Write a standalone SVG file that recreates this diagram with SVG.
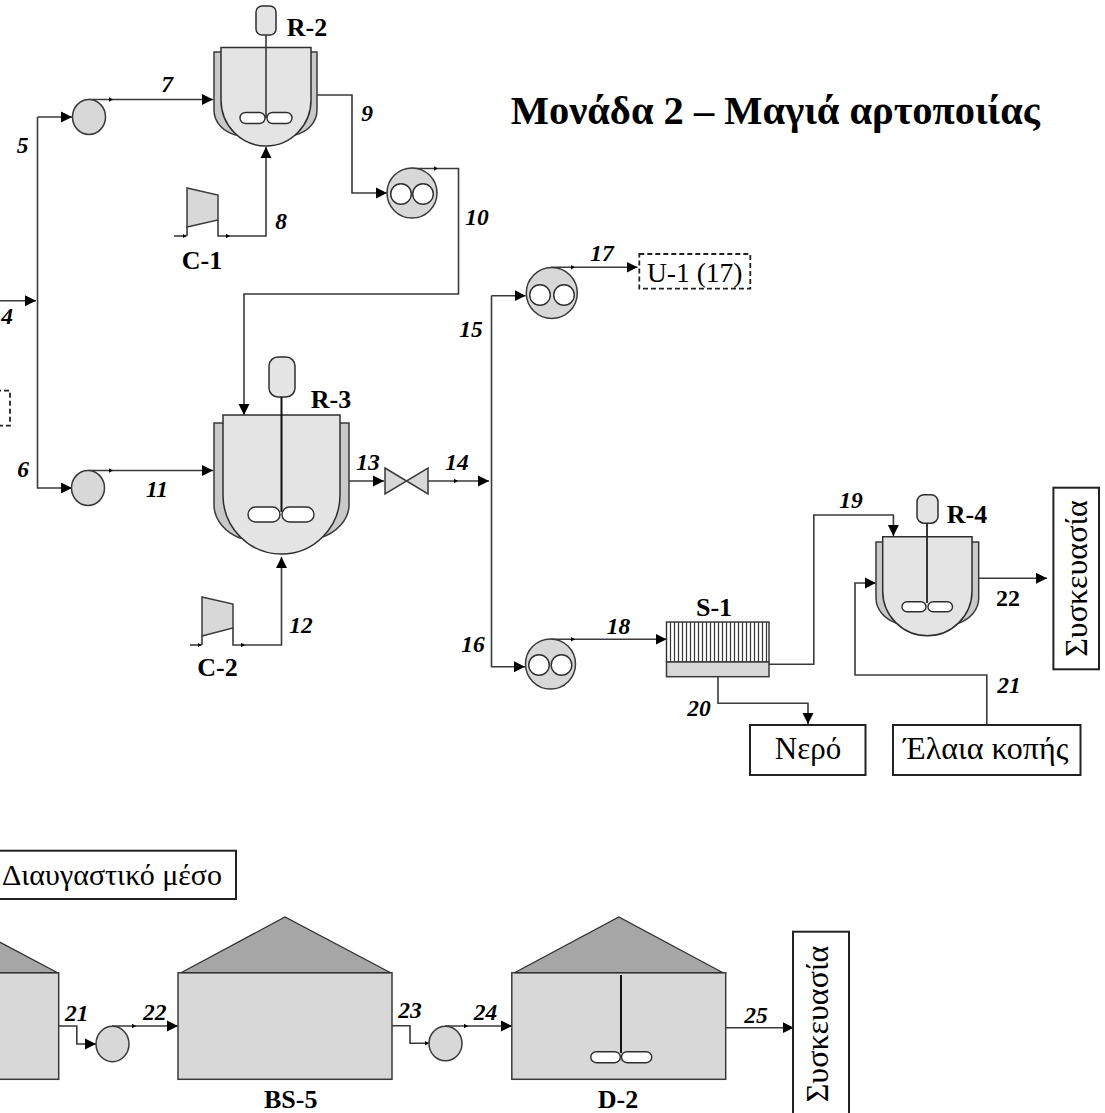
<svg xmlns="http://www.w3.org/2000/svg" width="1105" height="1113" viewBox="0 0 1105 1113">
<style>
text{font-family:"Liberation Serif","Times New Roman",serif;fill:#000}
.n{font-size:23.500px;font-weight:bold;font-style:italic;text-anchor:middle}
.t{font-size:26px;font-weight:bold;text-anchor:middle}
.b{font-size:31px;text-anchor:middle}
.p{font-size:32px;text-anchor:middle}
.c{fill:none;stroke:#3a3a3a;stroke-width:1.6}
.s{fill:#d8d8d8;stroke:#3a3a3a;stroke-width:1.5}
.v{fill:#e4e4e4;stroke:#2e2e2e;stroke-width:1.5}
.j{fill:#c9c9c9;stroke:#3a3a3a;stroke-width:1.5}
.w{fill:#fff;stroke:#2e2e2e;stroke-width:1.4}
.r{fill:#a6a6a6;stroke:#2e2e2e;stroke-width:1.2}
.box{fill:#fff;stroke:#222;stroke-width:2}
.d{fill:#fff;stroke:#222;stroke-width:1.8;stroke-dasharray:5 3}
</style>
<defs>
<marker id="a" markerUnits="userSpaceOnUse" markerWidth="12" markerHeight="12" refX="11" refY="6" orient="auto"><path d="M0,0.5 L11,6 L0,11.5Z" fill="#000"/></marker>
<marker id="f" markerUnits="userSpaceOnUse" markerWidth="5" markerHeight="6" refX="4" refY="3" orient="auto"><path d="M0,0.8 L4,3 L0,5.2Z" fill="#000"/></marker>
<path id="sm" d="M-2,-2.200 L2,0 L-2,2.200Z" fill="#000"/>
</defs>

<g id="connectors">
<path class="c" d="M0,300.700H36" marker-end="url(#a)"/>
<path class="c" d="M37.500,117H72" marker-end="url(#a)"/>
<path class="c" d="M37.500,117V488H72" marker-end="url(#a)"/>
<path class="c" d="M89,99.500H213" marker-end="url(#a)"/>
<path class="c" d="M317,95H352V193H387" marker-end="url(#a)"/>
<path class="c" d="M412,168.500H458.500V294H244V415" marker-end="url(#a)"/>
<path class="c" d="M187,227V236"/>
<path class="c" d="M174,236H186.500" marker-end="url(#f)"/>
<path class="c" d="M218,220V236H266V147" marker-end="url(#a)"/>
<path class="c" d="M88,470.500H213" marker-end="url(#a)"/>
<path class="c" d="M202,636V645"/>
<path class="c" d="M190,645H201.500" marker-end="url(#f)"/>
<path class="c" d="M233,628V645H281.500V557" marker-end="url(#a)"/>
<path class="c" d="M349,481H384" marker-end="url(#a)"/>
<path class="c" d="M428,481H489" marker-end="url(#a)"/>
<path class="c" d="M491.500,295.700H525.700" marker-end="url(#a)"/>
<path class="c" d="M491.500,295.700V666.700H525" marker-end="url(#a)"/>
<path class="c" d="M551,267.300H637.500" marker-end="url(#a)"/>
<path class="c" d="M550,639.300H666.500" marker-end="url(#a)"/>
<path class="c" d="M769,664.300H813.800V515H893.400V536" marker-end="url(#a)"/>
<path class="c" d="M718,676.700V703.300H808V724" marker-end="url(#a)"/>
<path class="c" d="M986.800,725V675H855V583H875.800" marker-end="url(#a)"/>
<path class="c" d="M978.700,578.300H1047" marker-end="url(#a)"/>
<path class="c" d="M58.700,1026H76.800V1044H96" marker-end="url(#a)"/>
<path class="c" d="M112,1026H178" marker-end="url(#a)"/>
<path class="c" d="M392,1025.700H410V1043.300H429" marker-end="url(#f)"/>
<path class="c" d="M445,1026H511.800" marker-end="url(#a)"/>
<path class="c" d="M725.700,1027.700H793.700" marker-end="url(#a)"/>
<use href="#sm" x="111" y="99.500"/>
<use href="#sm" x="436" y="168.500"/>
<use href="#sm" x="228" y="236"/>
<use href="#sm" x="111" y="470.500"/>
<use href="#sm" x="243" y="645"/>
<use href="#sm" x="456" y="481"/>
<use href="#sm" x="573" y="267.300"/>
<use href="#sm" x="573" y="639.300"/>
<use href="#sm" x="134" y="1026"/>
<use href="#sm" x="466" y="1026"/>
</g>

<g id="R-2">
<path class="j" d="M214,52H317V110C317,123 307,132 295,135H236C224,132 214,123 214,110Z"/>
<path class="v" d="M221,47.500H311V100A45,46 0 0 1 221,100Z"/>
<rect class="v" x="256" y="6" width="20" height="29" rx="6"/>
<path class="c" d="M266,35V118"/>
<rect class="w" x="240" y="112.500" width="25" height="11" rx="5.500"/>
<rect class="w" x="267" y="112.500" width="25" height="11" rx="5.500"/>
<text class="t" x="307" y="36">R-2</text>
</g>
<g id="R-3">
<path class="j" d="M214,423H349V505C349,520 336,533 320,538H240C226,533 214,520 214,505Z"/>
<path class="v" d="M223,415H340V495A58.500,59 0 0 1 223,495Z"/>
<rect class="v" x="269" y="357" width="26" height="40" rx="9"/>
<path d="M281.500,397V512" fill="none" stroke="#111" stroke-width="2"/>
<rect class="w" x="248" y="507" width="32" height="15" rx="7.500"/>
<rect class="w" x="282" y="507" width="32" height="15" rx="7.500"/>
<text class="t" x="331" y="408">R-3</text>
</g>
<g id="R-4">
<path class="j" d="M876,542H978.700V598C978.700,610 970,619 959,623H896C885,619 876,610 876,598Z"/>
<path class="v" d="M882.700,536.700H972V591A44.600,44.700 0 0 1 882.700,591Z"/>
<rect class="v" x="917" y="494.700" width="21" height="28.500" rx="7"/>
<path d="M927,523V603" fill="none" stroke="#222" stroke-width="1.800"/>
<rect class="w" x="902" y="601.700" width="24" height="10" rx="5"/>
<rect class="w" x="928" y="601.700" width="24.500" height="10" rx="5"/>
<text class="t" x="967" y="523">R-4</text>
</g>
<g id="P-1"><ellipse class="s" cx="89" cy="117" rx="16.500" ry="17.500"/></g>
<g id="P-2"><ellipse class="s" cx="88" cy="488" rx="16.500" ry="17.500"/></g>
<g id="P-3"><circle class="s" cx="412" cy="193" r="25"/><circle class="w" cx="401" cy="194" r="10.300"/><circle class="w" cx="423" cy="194" r="10.300"/></g>
<g id="P-4"><circle class="s" cx="551.800" cy="293" r="25.500"/><circle class="w" cx="540" cy="295" r="10.300"/><circle class="w" cx="564" cy="295" r="10.300"/></g>
<g id="P-5"><circle class="s" cx="550.500" cy="664" r="25"/><circle class="w" cx="539" cy="665" r="10.300"/><circle class="w" cx="561.500" cy="665" r="10.300"/></g>
<g id="P-6"><ellipse class="s" cx="112.500" cy="1044" rx="16.500" ry="17.700"/></g>
<g id="P-7"><ellipse class="s" cx="445.500" cy="1043.500" rx="16.500" ry="17.300"/></g>
<g id="C-1"><path class="s" d="M187,188L218,195V220L187,227Z"/><text class="t" x="202" y="269">C-1</text></g>
<g id="C-2"><path class="s" d="M202,597L233,604V628L202,636Z"/><text class="t" x="217.500" y="676">C-2</text></g>
<g id="V-1"><path class="s" d="M385,468L428,494V468L385,494Z"/></g>
<g id="S-1">
<rect x="666.500" y="622" width="102.500" height="40" fill="#fff" stroke="#2e2e2e" stroke-width="1.400"/>
<path d="M670.500,622V662M674.500,622V662M678.500,622V662M682.500,622V662M686.500,622V662M690.500,622V662M694.500,622V662M698.500,622V662M702.500,622V662M706.500,622V662M710.500,622V662M714.500,622V662M718.500,622V662M722.500,622V662M726.500,622V662M730.500,622V662M734.500,622V662M738.500,622V662M742.500,622V662M746.500,622V662M750.500,622V662M754.500,622V662M758.500,622V662M762.500,622V662M766.500,622V662" stroke="#333" stroke-width="1.200" fill="none"/>
<rect class="s" x="666.500" y="662" width="102.500" height="14.700"/>
<text class="t" x="714" y="616">S-1</text>
</g>
<g id="U-1"><rect class="d" x="639.300" y="254" width="111" height="34.700"/><text class="b" x="647" y="281.700" style="text-anchor:start;font-size:27.500px">U-1 (17)</text></g>
<g id="dashed-left"><rect class="d" x="-20" y="390.700" width="30" height="35"/></g>
<g id="packaging-1"><rect class="box" x="1053.400" y="487.700" width="45.600" height="181.600"/><text class="p" transform="translate(1087,578.500) rotate(-90)">Συσκευασία</text></g>
<g id="water"><rect class="box" x="750" y="725" width="115.500" height="50"/><text class="b" x="808" y="759">Νερό</text></g>
<g id="oils"><rect class="box" x="893" y="725" width="187.500" height="50"/><text class="p" x="986" y="759">Έλαια κοπής</text></g>
<g id="clarifier"><rect class="box" x="-10" y="850.700" width="246" height="48.300"/><text class="b" x="222" y="885" style="text-anchor:end;font-size:30px">Διαυγαστικό μέσο</text></g>
<g id="tank-left"><rect class="s" x="-10" y="972.700" width="68.700" height="106.600"/><path class="r" d="M57.600,972.700L-10,937V972.700Z"/></g>
<g id="BS-5"><rect class="s" x="178" y="972.700" width="214" height="106.600"/><path class="r" d="M181,972.700L285,917L390.600,972.700Z"/><text class="t" x="290.700" y="1107.700">BS-5</text></g>
<g id="D-2"><rect class="s" x="511.800" y="972.700" width="213.900" height="106.600"/><path class="r" d="M514.500,972.700L618.800,917L723,972.700Z"/><path d="M621,975V1053" stroke="#111" stroke-width="2" fill="none"/><rect class="w" x="590.800" y="1051.700" width="29.500" height="11" rx="5.500"/><rect class="w" x="621.500" y="1051.700" width="30.200" height="11" rx="5.500"/><text class="t" x="618" y="1107.700">D-2</text></g>
<g id="packaging-2"><rect class="box" x="793" y="931.700" width="56" height="190"/><text class="p" transform="translate(828,1024) rotate(-90)">Συσκευασία</text></g>

<g id="labels">
<text class="n" x="7" y="324">4</text>
<text class="n" x="22.700" y="153">5</text>
<text class="n" x="23" y="477">6</text>
<text class="n" x="167" y="92">7</text>
<text class="n" x="281" y="229">8</text>
<text class="n" x="367" y="121">9</text>
<text class="n" x="477" y="225">10</text>
<text class="n" x="157" y="497">11</text>
<text class="n" x="301" y="633">12</text>
<text class="n" x="368" y="470">13</text>
<text class="n" x="457" y="470">14</text>
<text class="n" x="471" y="337">15</text>
<text class="n" x="473" y="652">16</text>
<text class="n" x="602" y="261">17</text>
<text class="n" x="618.600" y="634">18</text>
<text class="n" x="851" y="508">19</text>
<text class="n" x="699" y="716">20</text>
<text class="n" x="1009" y="693">21</text>
<text class="t" x="1008" y="605.700" style="font-size:24px">22</text>
<text class="n" x="76.800" y="1021">21</text>
<text class="n" x="154.700" y="1020">22</text>
<text class="n" x="410" y="1017.700">23</text>
<text class="n" x="485.500" y="1020">24</text>
<text class="n" x="756" y="1022.700">25</text>
<text id="title" x="510.700" y="124.300" style="font-size:40.500px;font-weight:bold">Μονάδα 2 – Μαγιά αρτοποιίας</text>
</g>
</svg>
